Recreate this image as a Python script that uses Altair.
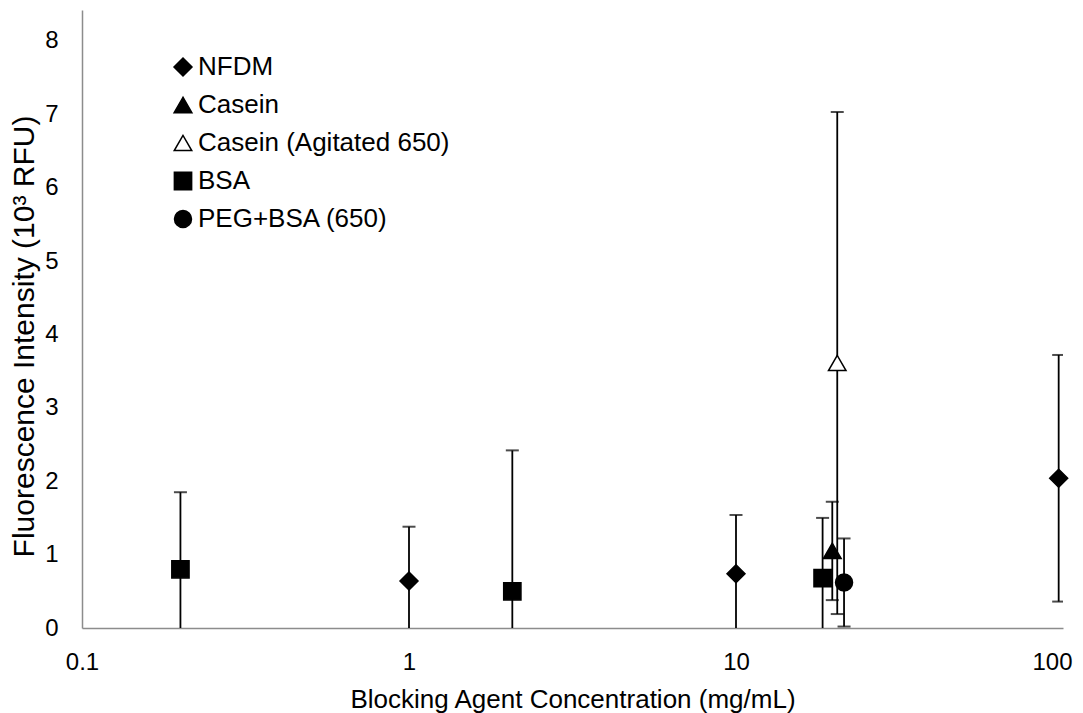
import altair as alt
import pandas as pd

# data
series = ["BSA", "NFDM", "BSA", "NFDM", "BSA", "Casein", "Casein (Agitated 650)", "PEG+BSA (650)", "NFDM"]
conc = [0.2, 1.0, 2.07, 10.0, 18.4, 19.7, 20.4, 21.4, 97.0]
mean = [0.80, 0.64, 0.50, 0.74, 0.68, 1.05, 3.61, 0.62, 2.04]
err = [1.05, 0.74, 1.92, 0.80, 0.82, 0.67, 3.42, 0.60, 1.68]

legend_order = ["NFDM", "Casein", "Casein (Agitated 650)", "BSA", "PEG+BSA (650)"]
shapes = ["diamond", "triangle-up", "triangle-up", "square", "circle"]
fills = ["black", "black", "white", "black", "black"]
strokes = ["black", "black", "black", "black", "black"]
sizes = [324, 289, 289, 256, 361]

x_ticks = [0.1, 1, 10, 100]
y_ticks = [0, 1, 2, 3, 4, 5, 6, 7, 8]

df = pd.DataFrame({"series": series, "conc": conc, "mean": mean, "err": err})

FONT = "Liberation Sans"

xscale = alt.Scale(type="log", domain=[0.1, 100], nice=False)
yscale = alt.Scale(domain=[0, 8.42], nice=False, zero=False)
xaxis = alt.Axis(values=x_ticks, format="~g", title="Blocking Agent Concentration (mg/mL)",
                 labelPadding=22, titlePadding=12, labelFlush=False,
                 labelOffset={"condition": {"test": "datum.value >= 100", "value": -11}, "value": 0})
yaxis = alt.Axis(values=y_ticks, title="Fluorescence Intensity (10³ RFU)",
                 labelPadding=24, titleFontSize=30, titleBaseline="middle",
                 titleX=-58, titleY=326, titleAngle=270)


def X():
    return alt.X("conc:Q", scale=xscale, axis=xaxis)


def Y(field):
    return alt.Y(field, type="quantitative", scale=yscale, axis=yaxis)


base = alt.Chart(df).transform_calculate(
    lo="datum.mean - datum.err", hi="datum.mean + datum.err"
)

rules = base.mark_rule(color="black", strokeWidth=1.8, clip=True).encode(
    x=X(), y=Y("lo"), y2="hi:Q"
)
cap_lo = base.mark_tick(color="black", orient="horizontal", size=13, thickness=2, clip=True).encode(
    x=X(), y=Y("lo")
)
cap_hi = base.mark_tick(color="black", orient="horizontal", size=13, thickness=2, clip=True).encode(
    x=X(), y=Y("hi")
)

legend = alt.Legend(
    title=None, orient="none", legendX=88, legendY=44,
    labelFont=FONT, labelFontSize=26, labelColor="black", labelLimit=0,
    rowPadding=12, labelOffset=2, padding=0,
    symbolStrokeColor="black", symbolStrokeWidth=1.5,
)

points = base.mark_point(opacity=1, fillOpacity=1, strokeWidth=1.5).encode(
    x=X(),
    y=Y("mean"),
    shape=alt.Shape("series:N", scale=alt.Scale(domain=legend_order, range=shapes), legend=legend),
    fill=alt.Fill("series:N", scale=alt.Scale(domain=legend_order, range=fills), legend=legend),
    stroke=alt.Stroke("series:N", scale=alt.Scale(domain=legend_order, range=strokes), legend=legend),
    size=alt.Size("series:N", scale=alt.Scale(domain=legend_order, range=sizes), legend=legend),
)

chart = (
    alt.layer(rules, cap_lo, cap_hi, points)
    .properties(
        width=981, height=618,
        autosize=alt.AutoSizeParams(type="none"),
        padding={"left": 74, "top": 2, "right": 12, "bottom": 88},
    )
    .configure_view(stroke=None)
    .configure_axis(
        labelFont=FONT, titleFont=FONT, labelFontSize=24, titleFontSize=26,
        titleFontWeight="normal", labelColor="black", titleColor="black",
        ticks=False, grid=False, domainColor="#8c8c8c", domainWidth=1.5,
    )
)

chart.save("out.html", embed_options={"renderer": "svg", "actions": False})
